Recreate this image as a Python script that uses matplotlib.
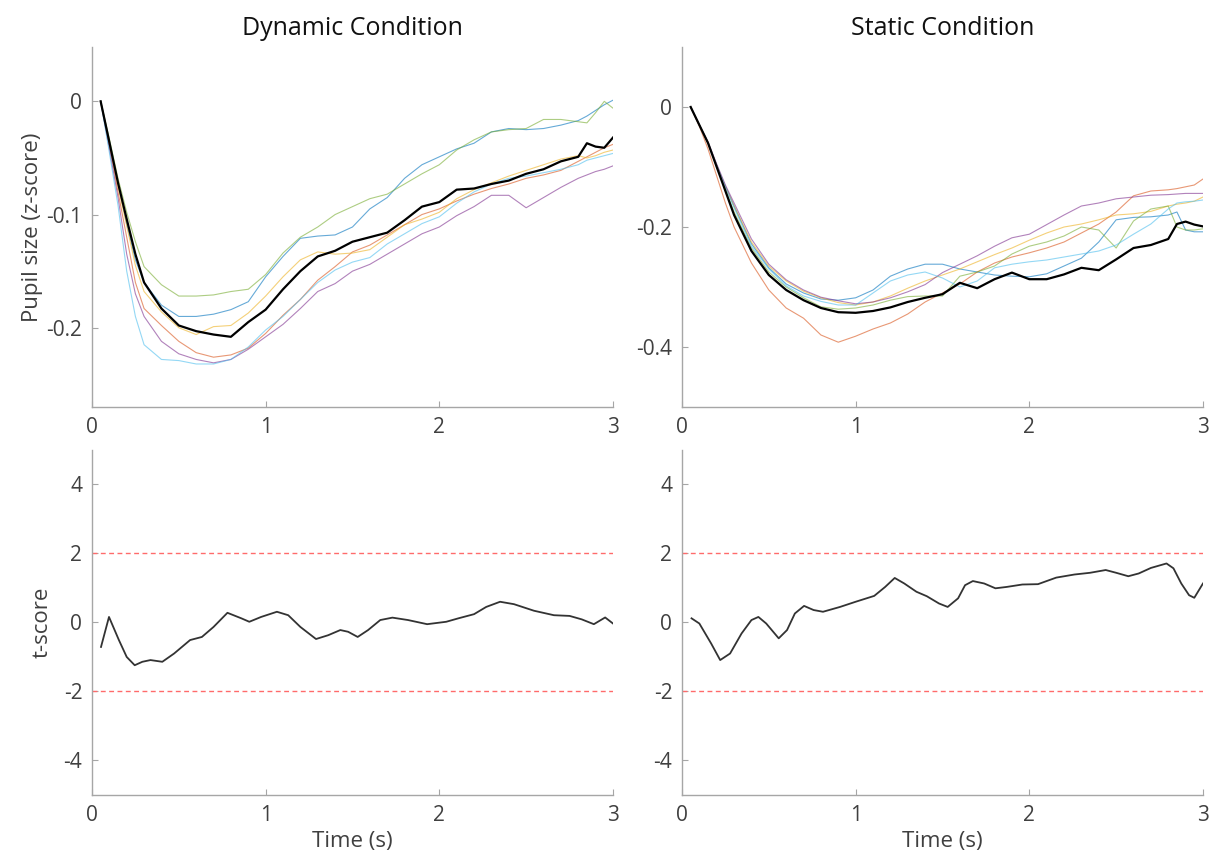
import matplotlib
matplotlib.use("Agg")
import matplotlib.pyplot as plt

plt.rcParams['font.family'] = ['Open Sans', 'DejaVu Sans']

# ---------------- data ----------------
time = [0.05, 0.1, 0.15, 0.2, 0.25, 0.3, 0.4, 0.5, 0.6, 0.7, 0.8, 0.9, 1.0,
        1.1, 1.2, 1.3, 1.4, 1.5, 1.6, 1.7, 1.8, 1.9, 2.0, 2.1, 2.2, 2.3, 2.4,
        2.5, 2.6, 2.7, 2.8, 2.85, 2.9, 2.95, 3.0]

# Dynamic condition (pupil size, z-score)
dyn_blue = [0, -0.035, -0.072, -0.108, -0.140, -0.160, -0.180, -0.190, -0.190, -0.188, -0.184, -0.177, -0.155,
            -0.137, -0.121, -0.119, -0.118, -0.111, -0.095, -0.085, -0.068, -0.056, -0.049, -0.042, -0.037, -0.027, -0.024,
            -0.025, -0.024, -0.021, -0.017, -0.013, -0.008, -0.003, 0.001]
dyn_red = [0, -0.038, -0.080, -0.120, -0.160, -0.183, -0.198, -0.212, -0.222, -0.226, -0.224, -0.218, -0.205,
           -0.189, -0.175, -0.158, -0.146, -0.133, -0.127, -0.118, -0.109, -0.100, -0.095, -0.088, -0.082, -0.077, -0.073,
           -0.068, -0.065, -0.061, -0.053, -0.049, -0.045, -0.041, -0.038]
dyn_yellow = [0, -0.037, -0.075, -0.110, -0.145, -0.168, -0.186, -0.200, -0.206, -0.199, -0.198, -0.187, -0.172,
              -0.155, -0.140, -0.133, -0.135, -0.134, -0.131, -0.120, -0.109, -0.104, -0.098, -0.086, -0.078, -0.072, -0.066,
              -0.061, -0.056, -0.051, -0.048, -0.050, -0.048, -0.045, -0.043]
dyn_purple = [0, -0.042, -0.085, -0.135, -0.170, -0.190, -0.212, -0.223, -0.228, -0.231, -0.228, -0.219, -0.208,
              -0.197, -0.183, -0.168, -0.161, -0.150, -0.144, -0.135, -0.126, -0.117, -0.111, -0.101, -0.093, -0.083, -0.083,
              -0.094, -0.085, -0.076, -0.068, -0.065, -0.062, -0.060, -0.057]
dyn_green = [0, -0.033, -0.068, -0.098, -0.124, -0.146, -0.162, -0.172, -0.172, -0.171, -0.168, -0.166, -0.153,
             -0.134, -0.120, -0.111, -0.100, -0.093, -0.086, -0.082, -0.073, -0.064, -0.056, -0.043, -0.034, -0.027, -0.025,
             -0.024, -0.016, -0.016, -0.018, -0.019, -0.010, 0.000, -0.006]
dyn_cyan = [0, -0.045, -0.092, -0.150, -0.190, -0.215, -0.228, -0.229, -0.232, -0.232, -0.228, -0.217, -0.202,
            -0.190, -0.175, -0.160, -0.149, -0.142, -0.138, -0.126, -0.117, -0.108, -0.102, -0.090, -0.080, -0.073, -0.068,
            -0.066, -0.063, -0.060, -0.056, -0.052, -0.050, -0.048, -0.046]
dyn_mean = [0, -0.036, -0.072, -0.104, -0.135, -0.160, -0.183, -0.198, -0.203, -0.206, -0.208, -0.195, -0.184,
            -0.166, -0.150, -0.137, -0.132, -0.124, -0.120, -0.116, -0.105, -0.093, -0.089, -0.078, -0.077, -0.073, -0.070,
            -0.064, -0.060, -0.053, -0.049, -0.037, -0.040, -0.041, -0.032]

# Static condition (pupil size, z-score)
sta_blue = [0, -0.030, -0.060, -0.097, -0.132, -0.165, -0.228, -0.268, -0.295, -0.310, -0.320, -0.322, -0.318,
            -0.305, -0.282, -0.270, -0.262, -0.262, -0.270, -0.275, -0.280, -0.282, -0.283, -0.278, -0.265, -0.252, -0.225,
            -0.188, -0.184, -0.183, -0.180, -0.175, -0.205, -0.208, -0.208]
sta_red = [0, -0.032, -0.070, -0.115, -0.160, -0.200, -0.260, -0.305, -0.335, -0.352, -0.380, -0.392, -0.382,
           -0.370, -0.360, -0.345, -0.325, -0.310, -0.295, -0.275, -0.260, -0.250, -0.243, -0.235, -0.225, -0.210, -0.195,
           -0.175, -0.148, -0.140, -0.138, -0.136, -0.133, -0.130, -0.120]
sta_yellow = [0, -0.030, -0.060, -0.097, -0.133, -0.165, -0.225, -0.265, -0.290, -0.307, -0.318, -0.326, -0.330,
              -0.325, -0.315, -0.302, -0.290, -0.280, -0.270, -0.258, -0.246, -0.235, -0.222, -0.210, -0.200, -0.195, -0.188,
              -0.180, -0.178, -0.174, -0.165, -0.162, -0.160, -0.157, -0.150]
sta_purple = [0, -0.030, -0.058, -0.095, -0.130, -0.160, -0.220, -0.262, -0.288, -0.305, -0.317, -0.323, -0.328,
              -0.325, -0.318, -0.308, -0.296, -0.276, -0.262, -0.248, -0.232, -0.218, -0.212, -0.196, -0.180, -0.165, -0.160,
              -0.153, -0.150, -0.147, -0.146, -0.145, -0.144, -0.144, -0.144]
sta_green = [0, -0.030, -0.060, -0.100, -0.138, -0.175, -0.235, -0.275, -0.300, -0.318, -0.333, -0.337, -0.335,
             -0.330, -0.322, -0.316, -0.315, -0.315, -0.282, -0.275, -0.265, -0.245, -0.232, -0.225, -0.215, -0.200, -0.205,
             -0.235, -0.190, -0.170, -0.165, -0.200, -0.205, -0.205, -0.203]
sta_cyan = [0, -0.030, -0.060, -0.098, -0.134, -0.168, -0.232, -0.270, -0.298, -0.315, -0.324, -0.330, -0.330,
            -0.310, -0.290, -0.280, -0.275, -0.285, -0.300, -0.290, -0.268, -0.262, -0.258, -0.255, -0.250, -0.245, -0.240,
            -0.230, -0.212, -0.195, -0.170, -0.160, -0.158, -0.157, -0.155]
sta_mean = [0, -0.030, -0.060, -0.100, -0.140, -0.180, -0.240, -0.280, -0.305, -0.322, -0.335, -0.342, -0.343,
            -0.340, -0.334, -0.325, -0.318, -0.312, -0.293, -0.302, -0.287, -0.276, -0.287, -0.287, -0.279, -0.268, -0.272,
            -0.254, -0.235, -0.230, -0.220, -0.195, -0.191, -0.196, -0.199]

# t-score curves
t_dyn_time = [0.052, 0.098, 0.155, 0.20, 0.246, 0.29, 0.337, 0.405, 0.473, 0.565, 0.633, 0.70, 0.78, 0.86,
              0.906, 0.974, 1.065, 1.13, 1.20, 1.29, 1.36, 1.43, 1.475, 1.53, 1.59, 1.66, 1.73, 1.82, 1.93,
              2.04, 2.11, 2.20, 2.27, 2.35, 2.43, 2.545, 2.66, 2.75, 2.82, 2.89, 2.955, 3.0]
t_dyn = [-0.71, 0.16, -0.51, -1.0, -1.24, -1.14, -1.09, -1.14, -0.90, -0.51, -0.42, -0.13, 0.28, 0.12,
         0.02, 0.16, 0.31, 0.21, -0.13, -0.48, -0.37, -0.22, -0.27, -0.42, -0.22, 0.07, 0.14, 0.07, -0.05,
         0.02, 0.12, 0.24, 0.45, 0.60, 0.53, 0.34, 0.21, 0.19, 0.09, -0.05, 0.145, -0.03]

t_sta_time = [0.055, 0.10, 0.168, 0.22, 0.277, 0.343, 0.40, 0.44, 0.485, 0.557, 0.605, 0.65, 0.703, 0.758,
              0.812, 0.91, 1.0, 1.107, 1.17, 1.225, 1.28, 1.35, 1.41, 1.48, 1.53, 1.59, 1.63, 1.675, 1.74,
              1.805, 1.87, 1.96, 2.05, 2.155, 2.26, 2.35, 2.44, 2.50, 2.57, 2.63, 2.70, 2.79, 2.83, 2.875,
              2.92, 2.95, 3.0]
t_sta = [0.12, -0.03, -0.61, -1.09, -0.90, -0.32, 0.07, 0.16, -0.03, -0.46, -0.22, 0.26, 0.48, 0.36,
         0.31, 0.45, 0.60, 0.77, 1.03, 1.29, 1.13, 0.89, 0.76, 0.55, 0.45, 0.70, 1.08, 1.20, 1.13,
         0.99, 1.03, 1.10, 1.11, 1.30, 1.39, 1.44, 1.52, 1.44, 1.34, 1.42, 1.58, 1.71, 1.57, 1.13,
         0.79, 0.715, 1.13]

threshold = 2
titles = ["Dynamic Condition", "Static Condition"]
x_ticks = [0, 1, 2, 3]

# ---------------- style ----------------
colors = [(0, 0.447, 0.741), (0.85, 0.325, 0.098), (0.929, 0.694, 0.125),
          (0.494, 0.184, 0.556), (0.466, 0.674, 0.188), (0.301, 0.745, 0.933)]
spine_col = '#a6a6a6'
tick_col = '#404040'

fig = plt.figure(figsize=(12.15, 8.61), dpi=100)
ax_tl = fig.add_axes([0.0757, 0.5273, 0.4288, 0.4181])
ax_tr = fig.add_axes([0.5613, 0.5273, 0.4288, 0.4181])
ax_bl = fig.add_axes([0.0757, 0.0767, 0.4288, 0.4007])
ax_br = fig.add_axes([0.5613, 0.0767, 0.4288, 0.4007])


def style(ax):
    for s in ['top', 'right']:
        ax.spines[s].set_visible(False)
    for s in ['left', 'bottom']:
        ax.spines[s].set_color(spine_col)
        ax.spines[s].set_linewidth(1.0)
    ax.tick_params(direction='in', length=4, width=0.8, color=spine_col,
                   labelcolor=tick_col, labelsize=15, pad=7)
    ax.set_xlim(0, 3)
    ax.set_xticks(x_ticks)
    ax.set_xticklabels([str(v) for v in x_ticks])


dyn_series = [dyn_blue, dyn_red, dyn_yellow, dyn_purple, dyn_green, dyn_cyan]
sta_series = [sta_blue, sta_red, sta_yellow, sta_purple, sta_green, sta_cyan]

for ax, series, mean, ylim, yt, title in [
        (ax_tl, dyn_series, dyn_mean, (-0.27, 0.048), [-0.2, -0.1, 0], titles[0]),
        (ax_tr, sta_series, sta_mean, (-0.5, 0.1), [-0.4, -0.2, 0], titles[1])]:
    for s, c in zip(series, colors):
        ax.plot(time, s, color=c, lw=0.8, alpha=0.6)
    ax.plot(time, mean, color='black', lw=1.6)
    style(ax)
    ax.set_ylim(*ylim)
    ax.set_yticks(yt)
    ax.set_yticklabels(['0' if v == 0 else f'{v:g}' for v in yt])
    ax.set_title(title, fontsize=18, color='#111111', pad=9)

ax_tl.set_ylabel('Pupil size (z-score)', fontsize=16, color=tick_col, labelpad=2)

for ax, tt, tv in [(ax_bl, t_dyn_time, t_dyn), (ax_br, t_sta_time, t_sta)]:
    ax.axhline(threshold, color='#ff6b6b', lw=1.0, ls=(0, (3.5, 2.5)))
    ax.axhline(-threshold, color='#ff6b6b', lw=1.0, ls=(0, (3.5, 2.5)))
    ax.plot(tt, tv, color='#333333', lw=1.3)
    style(ax)
    ax.set_ylim(-5, 5)
    ax.set_yticks([-4, -2, 0, 2, 4])
    ax.set_yticklabels(['-4', '-2', '0', '2', '4'])
    ax.set_xlabel('Time (s)', fontsize=16, color=tick_col, labelpad=4)

ax_bl.set_ylabel('t-score', fontsize=16, color=tick_col, labelpad=8)

fig.savefig('out.png', dpi=100)
